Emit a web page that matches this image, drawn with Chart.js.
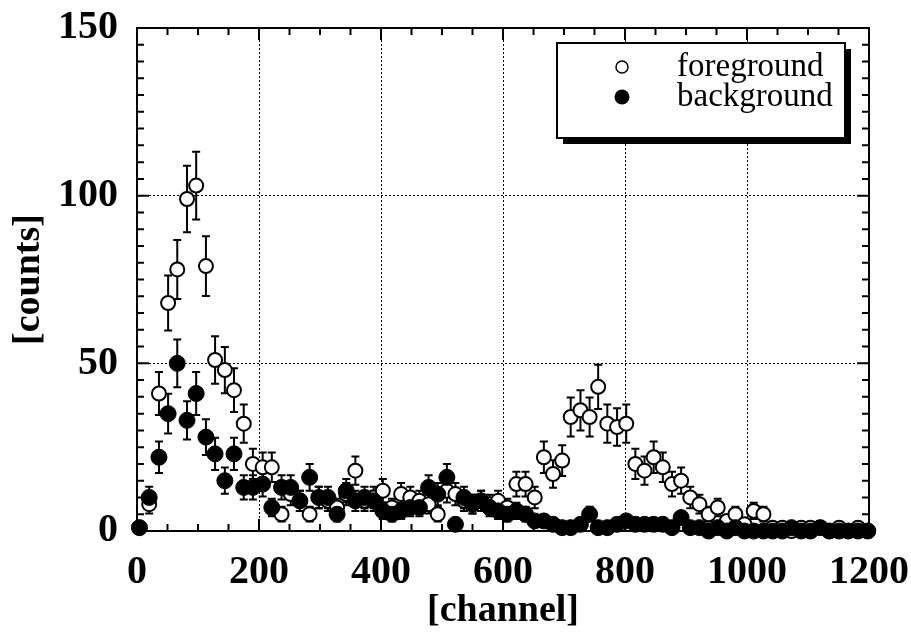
<!DOCTYPE html>
<html>
<head>
<meta charset="utf-8">
<title>counts vs channel</title>
<script src="https://cdn.jsdelivr.net/npm/chart.js@4.4.1/dist/chart.umd.min.js"></script>
<style>
  html, body { margin: 0; padding: 0; background: #fff; }
  #wrap { width: 911px; height: 636px; }
</style>
</head>
<body>
<div id="wrap"><canvas id="myChart" width="911" height="636"></canvas></div>
<script>
// bin centres (channel)
const channels = [4, 20, 36, 51, 66, 82, 97, 113, 128, 144,
    159, 175, 190, 206, 221, 237, 252, 267, 283, 298,
    313, 328, 343, 358, 373, 388, 403, 418, 433, 448,
    463, 478, 493, 508, 522, 536, 550, 564, 578, 592,
    607, 622, 637, 652, 667, 682, 697, 711, 727, 742,
    756, 771, 787, 802, 817, 832, 847, 862, 877, 892,
    907, 922, 937, 952, 967, 981, 996, 1011, 1027, 1042,
    1058, 1073, 1089, 1104, 1120, 1135, 1151, 1166, 1182, 1198];

const foreground = [1, 8, 41, 68, 78, 99, 103, 79, 51, 48,
    42, 32, 20, 19, 19, 5, 11, 9, 5, 10,
    9, 7, 11, 18, 9, 10, 12, 7, 11, 10,
    9, 8, 5, 12, 11, 9, 8, 9, 8, 9,
    7, 14, 14, 10, 22, 17, 21, 34, 36, 34,
    43, 32, 31, 32, 20, 18, 22, 19, 14, 15,
    10, 8, 5, 7, 3, 5, 2, 6, 5, 1,
    1, 0, 1, 1, 1, 0, 1, 0, 1, 0];

const foregroundErr = [1, 2.8, 6.4, 8.2, 8.8, 9.9, 10.1, 8.9, 7.1, 6.9,
    6.5, 5.7, 4.5, 4.4, 4.4, 2.2, 3.3, 3, 2.2, 3.2,
    3, 2.6, 3.3, 4.2, 3, 3.2, 3.5, 2.6, 3.3, 3.2,
    3, 2.8, 2.2, 3.5, 3.3, 3, 2.8, 3, 2.8, 3,
    2.6, 3.7, 3.7, 3.2, 4.7, 4.1, 4.6, 5.8, 6, 5.8,
    6.6, 5.7, 5.6, 5.7, 4.5, 4.2, 4.7, 4.4, 3.7, 3.9,
    3.2, 2.8, 2.2, 2.6, 1.7, 2.2, 1.4, 2.4, 2.2, 1,
    1, 0, 1, 1, 1, 0, 1, 0, 1, 0];

const background = [1, 10, 22, 35, 50, 33, 41, 28, 23, 15,
    23, 13, 13, 14, 7, 13, 13, 9, 16, 10,
    10, 5, 12, 9, 10, 9, 6, 5, 6, 7,
    7, 13, 11, 16, 2, 10, 8, 9, 7, 6,
    5, 6, 5, 3, 3, 2, 1, 1, 2, 5,
    1, 1, 2, 3, 2, 2, 2, 2, 1, 4,
    1, 1, 0, 1, 0, 1, 0, 0, 0, 0,
    0, 1, 0, 0, 1, 0, 0, 0, 0, 0];

const backgroundErr = [1, 3.2, 4.7, 5.9, 7.1, 5.7, 6.4, 5.3, 4.8, 3.9,
    4.8, 3.6, 3.6, 3.7, 2.6, 3.6, 3.6, 3, 4, 3.2,
    3.2, 2.2, 3.5, 3, 3.2, 3, 2.4, 2.2, 2.4, 2.6,
    2.6, 3.6, 3.3, 4, 1.4, 3.2, 2.8, 3, 2.6, 2.4,
    2.2, 2.4, 2.2, 1.7, 1.7, 1.4, 1, 1, 1.4, 2.2,
    1, 1, 1.4, 1.7, 1.4, 1.4, 1.4, 1.4, 1, 2,
    1, 1, 0, 1, 0, 1, 0, 0, 0, 0,
    0, 1, 0, 0, 1, 0, 0, 0, 0, 0];

const xTickStep = 200;
const yTickStep = 50;
const xMinorStep = 50;
const yMinorStep = 5;
const seriesNames = ['foreground', 'background'];

const SERIF = '"Liberation Serif", "DejaVu Serif", serif';

function toPoints(xs, ys) {
    return xs.map((x, i) => ({ x: x, y: ys[i] }));
}

// frame with inward ticks on all four sides
const framePlugin = {
    id: 'frame',
    beforeDatasetsDraw(chart) {
        const ctx = chart.ctx;
        const a = chart.chartArea;
        const xs = chart.scales.x, ys = chart.scales.y;
        ctx.save();
        ctx.strokeStyle = '#000';
        ctx.lineWidth = 2;
        ctx.strokeRect(a.left, a.top, a.right - a.left, a.bottom - a.top);
        ctx.beginPath();
        for (let v = 0; v <= xs.max; v += xMinorStep) {
            const px = xs.getPixelForValue(v);
            const len = v % xTickStep === 0 ? 12 : 7;
            ctx.moveTo(px, a.bottom); ctx.lineTo(px, a.bottom - len);
            ctx.moveTo(px, a.top); ctx.lineTo(px, a.top + len);
        }
        for (let v = 0; v <= ys.max; v += yMinorStep) {
            const py = ys.getPixelForValue(v);
            const len = v % yTickStep === 0 ? 12 : 7;
            ctx.moveTo(a.left, py); ctx.lineTo(a.left + len, py);
            ctx.moveTo(a.right, py); ctx.lineTo(a.right - len, py);
        }
        ctx.stroke();
        ctx.restore();
    }
};

// vertical error bars with caps
const errorBarPlugin = {
    id: 'errorBars',
    beforeDatasetsDraw(chart) {
        const ctx = chart.ctx;
        const xs = chart.scales.x, ys = chart.scales.y;
        ctx.save();
        ctx.strokeStyle = '#000';
        ctx.lineWidth = 2;
        chart.data.datasets.forEach(ds => {
            ds.data.forEach((p, i) => {
                const e = ds.errors[i];
                if (!e) return;
                const px = xs.getPixelForValue(p.x);
                const yHi = ys.getPixelForValue(p.y + e);
                const yLo = ys.getPixelForValue(Math.max(0, p.y - e));
                ctx.beginPath();
                ctx.moveTo(px, yHi); ctx.lineTo(px, yLo);
                ctx.moveTo(px - 4, yHi); ctx.lineTo(px + 4, yHi);
                ctx.moveTo(px - 4, yLo); ctx.lineTo(px + 4, yLo);
                ctx.stroke();
            });
        });
        ctx.restore();
    }
};

// boxed legend with drop shadow
const boxLegendPlugin = {
    id: 'boxLegend',
    afterDraw(chart) {
        const ctx = chart.ctx;
        const bx = 557, by = 43, bw = 288, bh = 95;
        ctx.save();
        ctx.fillStyle = '#000';
        ctx.fillRect(bx + 6, by + 6, bw, bh);
        ctx.fillStyle = '#fff';
        ctx.fillRect(bx, by, bw, bh);
        ctx.strokeStyle = '#000';
        ctx.lineWidth = 2;
        ctx.strokeRect(bx, by, bw, bh);

        const rows = [by + 24, by + 54];
        ctx.font = '33px ' + SERIF;
        ctx.textBaseline = 'middle';
        ctx.textAlign = 'left';
        chart.data.datasets.forEach((ds, i) => {
            const cy = rows[i];
            ctx.beginPath();
            ctx.arc(bx + 65, cy, i === 0 ? 6 : 7.5, 0, Math.PI * 2);
            if (i === 0) {
                ctx.fillStyle = '#fff';
                ctx.fill();
                ctx.lineWidth = 1.5;
                ctx.stroke();
            } else {
                ctx.fillStyle = '#000';
                ctx.fill();
            }
            ctx.fillStyle = '#000';
            ctx.fillText(seriesNames[i], bx + 120, cy);
        });
        ctx.restore();
    }
};

const ctx = document.getElementById('myChart').getContext('2d');

const myChart = new Chart(ctx, {
    type: 'scatter',
    data: {
        datasets: [{
            label: seriesNames[0],
            data: toPoints(channels, foreground),
            errors: foregroundErr,
            pointRadius: 7,
            pointBackgroundColor: '#fff',
            pointBorderColor: '#000',
            pointBorderWidth: 2,
            showLine: false,
            clip: false,
            order: 1
        }, {
            label: seriesNames[1],
            data: toPoints(channels, background),
            errors: backgroundErr,
            pointRadius: 8,
            pointBackgroundColor: '#000',
            pointBorderColor: '#000',
            pointBorderWidth: 1,
            showLine: false,
            clip: false,
            order: 0
        }]
    },
    options: {
        responsive: false,
        animation: false,
        layout: { padding: { top: 28, right: 42, left: 0, bottom: 0 } },
        plugins: {
            legend: { display: false },
            tooltip: { enabled: false }
        },
        scales: {
            x: {
                type: 'linear',
                min: 0,
                max: 1200,
                afterFit(scale) {
                    scale.height = 105;
                    scale.paddingLeft = 0;
                    scale.paddingRight = 0;
                },
                ticks: {
                    stepSize: xTickStep,
                    color: '#000',
                    padding: 18,
                    maxRotation: 0,
                    callback: v => String(v),
                    font: { family: SERIF, size: 40, weight: 'bold' }
                },
                grid: { color: '#000', lineWidth: 1, drawTicks: false },
                border: { display: false, dash: [2, 2] },
                title: {
                    display: true,
                    text: '[channel]',
                    color: '#000',
                    padding: { top: 0, bottom: 2 },
                    font: { family: SERIF, size: 38, weight: 'bold', lineHeight: 1.2 }
                }
            },
            y: {
                type: 'linear',
                min: 0,
                max: 150,
                afterFit(scale) {
                    scale.width = 137;
                    scale.paddingTop = 0;
                    scale.paddingBottom = 0;
                },
                ticks: {
                    stepSize: yTickStep,
                    color: '#000',
                    padding: 19,
                    callback: v => String(v),
                    font: { family: SERIF, size: 40, weight: 'bold' }
                },
                grid: { color: '#000', lineWidth: 1, drawTicks: false },
                border: { display: false, dash: [2, 2] },
                title: {
                    display: true,
                    text: '[counts]',
                    color: '#000',
                    padding: { top: 6, bottom: 0 },
                    font: { family: SERIF, size: 38, weight: 'bold', lineHeight: 1.2 }
                }
            }
        }
    },
    plugins: [framePlugin, errorBarPlugin, boxLegendPlugin]
});
</script>
</body>
</html>
